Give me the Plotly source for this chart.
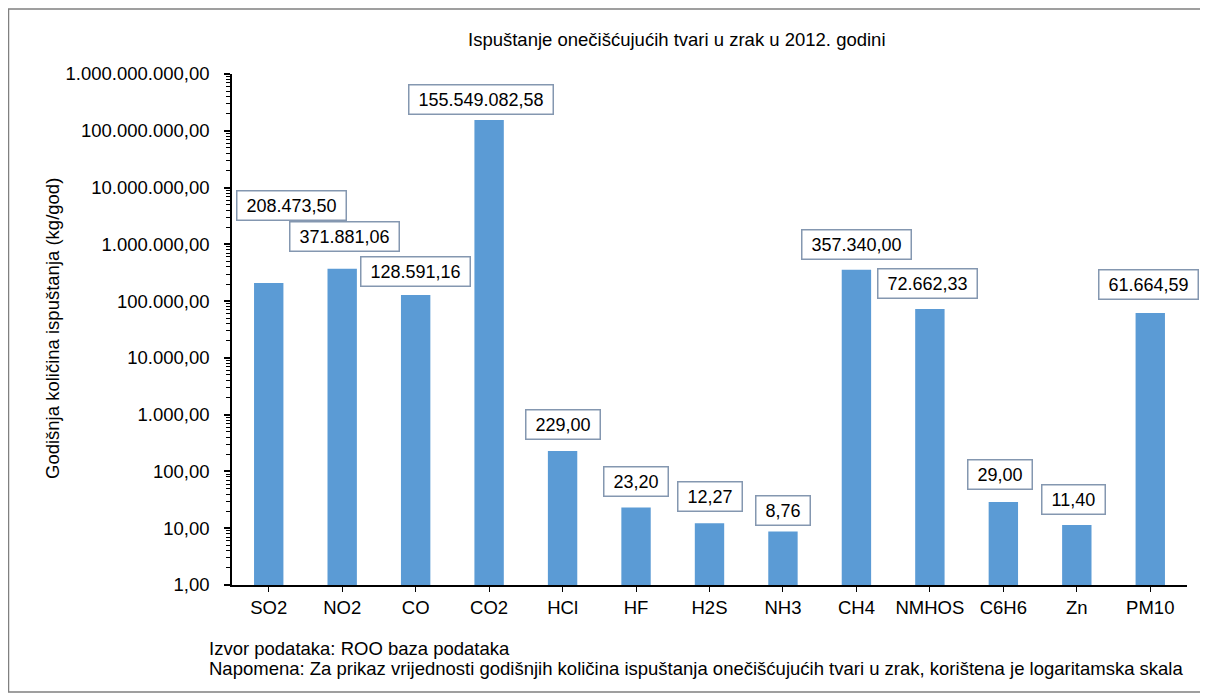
import numpy as np
import plotly.graph_objects as go

# Data
categories = ['SO2', 'NO2', 'CO', 'CO2', 'HCl', 'HF', 'H2S', 'NH3', 'CH4', 'NMHOS', 'C6H6', 'Zn', 'PM10']
values = [208473.50, 371881.06, 128591.16, 155549082.58, 229.00, 23.20, 12.27, 8.76,
          357340.00, 72662.33, 29.00, 11.40, 61664.59]
labels = ['208.473,50', '371.881,06', '128.591,16', '155.549.082,58', '229,00', '23,20', '12,27',
          '8,76', '357.340,00', '72.662,33', '29,00', '11,40', '61.664,59']
tick_vals = [1, 10, 100, 1e3, 1e4, 1e5, 1e6, 1e7, 1e8, 1e9]
tick_text = ['1,00', '10,00', '100,00', '1.000,00', '10.000,00', '100.000,00', '1.000.000,00',
             '10.000.000,00', '100.000.000,00', '1.000.000.000,00']
minor_vals = [k * 10 ** e for e in range(9) for k in range(2, 10)]

# label offsets (pixels) from the top of each bar, as placed in the original chart
label_dx = [23, 2, 0, -8, 0, 0, 0, 0, 0, -2, -3, -3, -2]
label_dy = [78, 32, 23, 20, 27, 26, 27, 21, 25, 25, 27, 25, 29]

# page body has an 8px margin, so the figure is drawn 8px smaller / shifted
OFF = 8
W, H = 1208 - OFF, 695 - OFF
L, R, T, B = 232 - OFF, 1187 - OFF, 74 - OFF, 585 - OFF
FONT = 'Arial, Liberation Sans, sans-serif'
FS = 18.5
NB = '\u00a0'


def px(x):
    return (x - OFF - L) / (R - L)


def py(y):
    return (B - (y - OFF)) / (B - T)


fig = go.Figure()
fig.add_trace(go.Bar(
    x=categories,
    y=values,
    marker=dict(color='#5B9BD5', line=dict(width=0)),
    hoverinfo='x+y',
))

for i, (c, v, t) in enumerate(zip(categories, values, labels)):
    fig.add_annotation(
        x=c, y=np.log10(v), xref='x', yref='y',
        text=NB + t + NB, showarrow=False,
        xanchor='center', yanchor='middle',
        xshift=label_dx[i], yshift=label_dy[i],
        font=dict(family=FONT, size=18, color='#000000'),
        bgcolor='white', bordercolor='#8497B0', borderwidth=1.5, borderpad=4,
    )

# title, axis title and notes
fig.add_annotation(x=px(677), y=py(40), xref='paper', yref='paper', text='Ispuštanje onečišćujućih tvari u zrak u 2012. godini',
                   showarrow=False, xanchor='center', yanchor='middle',
                   font=dict(family=FONT, size=FS, color='#000000'))
fig.add_annotation(x=px(52), y=py(329), xref='paper', yref='paper', text='Godišnja količina ispuštanja (kg/god)',
                   showarrow=False, textangle=-90, xanchor='center', yanchor='middle',
                   font=dict(family=FONT, size=FS, color='#000000'))
fig.add_annotation(x=px(207), y=py(648), xref='paper', yref='paper', text='Izvor podataka: ROO baza podataka',
                   showarrow=False, xanchor='left', yanchor='middle',
                   font=dict(family=FONT, size=FS, color='#000000'))
fig.add_annotation(x=px(207), y=py(668), xref='paper', yref='paper',
                   text='Napomena: Za prikaz vrijednosti godišnjih količina ispuštanja onečišćujućih tvari u zrak, korištena je logaritamska skala',
                   showarrow=False, xanchor='left', yanchor='middle',
                   font=dict(family=FONT, size=FS, color='#000000'))

# outer border
fig.add_shape(type='rect', xref='paper', yref='paper',
              x0=px(8.5), x1=px(1205), y0=py(692), y1=py(9),
              line=dict(color='#808080', width=1.5), fillcolor='rgba(0,0,0,0)', layer='below')

fig.update_layout(
    width=W, height=H,
    margin=dict(l=L, r=W - R, t=T, b=H - B),
    plot_bgcolor='white',
    paper_bgcolor='white',
    showlegend=False,
    bargap=0.6,
    font=dict(family=FONT, size=FS, color='#000000'),
    xaxis=dict(
        type='category', range=[-0.5, 12.5],
        showline=True, linecolor='#000000', linewidth=1.5,
        ticks='outside', ticklen=5, tickcolor='#000000',
        showgrid=False, ticklabelstandoff=0,
        tickfont=dict(family=FONT, size=FS, color='#000000'),
    ),
    yaxis=dict(
        type='log', range=[0, 9],
        tickmode='array', tickvals=tick_vals, ticktext=tick_text,
        showline=True, linecolor='#000000', linewidth=1.5,
        ticks='outside', ticklen=6, tickcolor='#000000', tickwidth=1.5,
        minor=dict(tickmode='array', tickvals=minor_vals, ticks='outside', ticklen=4,
                   tickcolor='#000000', tickwidth=1, showgrid=False),
        showgrid=False, zeroline=False, ticklabelstandoff=11,
        tickfont=dict(family=FONT, size=FS, color='#000000'),
    ),
)

fig.write_html('out.html')
